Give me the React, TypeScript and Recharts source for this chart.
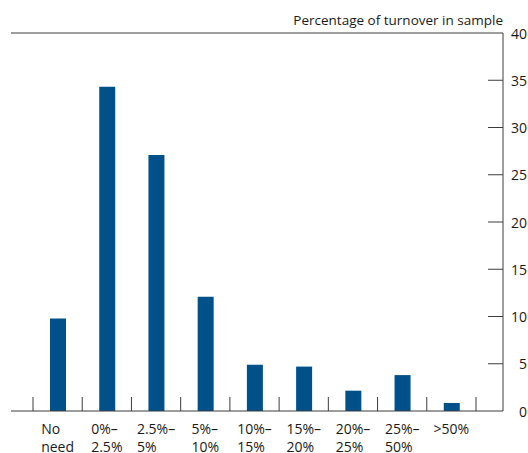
import { BarChart, Bar, XAxis, YAxis, ReferenceLine } from "recharts";

const CATEGORIES = [
  "No\nneed",
  "0%–\n2.5%",
  "2.5%–\n5%",
  "5%–\n10%",
  "10%–\n15%",
  "15%–\n20%",
  "20%–\n25%",
  "25%–\n50%",
  ">50%",
];
const VALUES = [9.8, 34.3, 27.1, 12.1, 4.9, 4.7, 2.15, 3.8, 0.85];
const Y_TICKS = [0, 5, 10, 15, 20, 25, 30, 35, 40];
const TITLE = "Percentage of turnover in sample";

const FONT = "'Open Sans', sans-serif";
const TEXT = "#1a1a1a";
const LINE = "#3c3c3c";
const BLUE = "#00508a";

const data = CATEGORIES.map((c, i) => ({ name: c, value: VALUES[i] }));

let ctx: CanvasRenderingContext2D | null = null;
function textWidth(s: string) {
  if (!ctx) ctx = document.createElement("canvas").getContext("2d");
  if (!ctx) return s.length * 7;
  ctx.font = `14px ${FONT}`;
  return ctx.measureText(s).width;
}

// labels: left-aligned lines inside a block centred on the band,
// boundary ticks drawn at band edges (payload.offset = half a band)
function XTick(props: any) {
  const { x, y, payload, index } = props;
  const lines = String(payload.value).split("\n");
  const w = Math.max(...lines.map(textWidth));
  const half = payload.offset ?? 0;
  return (
    <g>
      <line x1={x - half} x2={x - half} y1={y} y2={y - 14} stroke={LINE} />
      {index === CATEGORIES.length - 1 && (
        <line x1={x + half} x2={x + half} y1={y} y2={y - 14} stroke={LINE} />
      )}
      <text x={x - w / 2} y={y + 23} fontSize={14} fontFamily={FONT} fill={TEXT}>
        {lines.map((l, i) => (
          <tspan key={i} x={x - w / 2} dy={i === 0 ? 0 : 18}>
            {l}
          </tspan>
        ))}
      </text>
    </g>
  );
}

function YTick(props: any) {
  const { x, y, payload } = props;
  return (
    <g>
      {payload.value !== 0 && payload.value !== 40 && (
        <line x1={x - 15} x2={x} y1={y} y2={y} stroke={LINE} />
      )}
      <text
        x={x + 24}
        y={y}
        textAnchor="end"
        dominantBaseline="central"
        fontSize={14}
        fontFamily={FONT}
        fill={TEXT}
      >
        {payload.value}
      </text>
    </g>
  );
}

export default function App() {
  return (
    <div style={{ position: "absolute", left: 0, top: 0, width: 528, height: 453, background: "#fff" }}>
      <div
        style={{
          position: "absolute",
          right: 25,
          top: 11,
          fontFamily: FONT,
          fontSize: 13.5,
          color: TEXT,
          whiteSpace: "nowrap",
          lineHeight: "18px",
        }}
      >
        {TITLE}
      </div>
      <BarChart
        width={528}
        height={453}
        data={data}
        margin={{ top: 33, right: 0, bottom: 0, left: 11 }}
        barCategoryGap={0}
      >
        <XAxis
          dataKey="name"
          interval={0}
          height={42}
          padding={{ left: 22, right: 27 }}
          tickLine={false}
          tickSize={0}
          tickMargin={0}
          axisLine={{ stroke: LINE }}
          tick={<XTick />}
        />
        <YAxis
          yAxisId="l"
          orientation="left"
          mirror
          width={0}
          domain={[0, 40]}
          ticks={Y_TICKS}
          tick={false}
          tickSize={14}
          tickLine={{ stroke: LINE }}
          axisLine={{ stroke: LINE }}
        />
        <YAxis
          yAxisId="r"
          orientation="right"
          width={25}
          domain={[0, 40]}
          ticks={Y_TICKS}
          interval={0}
          tickLine={false}
          tickSize={0}
          tickMargin={0}
          axisLine={{ stroke: LINE }}
          tick={<YTick />}
        />
        <ReferenceLine yAxisId="r" y={40} stroke={LINE} />
        <Bar dataKey="value" yAxisId="r" fill={BLUE} barSize={16} isAnimationActive={false} />
      </BarChart>
    </div>
  );
}
